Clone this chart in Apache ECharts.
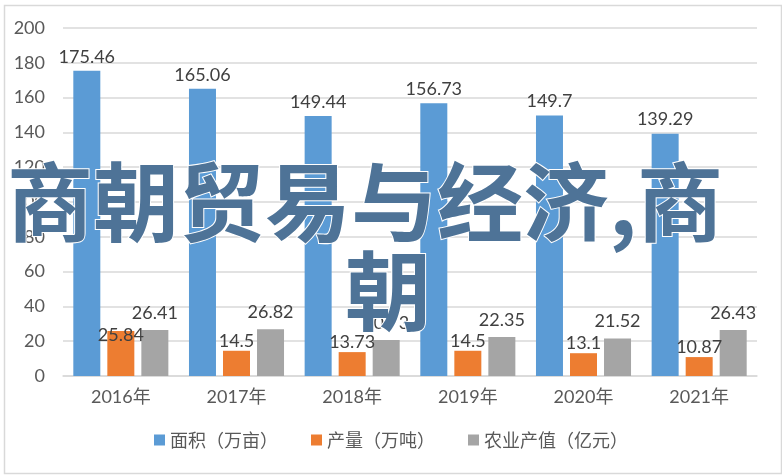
<!DOCTYPE html>
<html>
<head>
<meta charset="utf-8">
<script src="https://cdn.jsdelivr.net/npm/echarts@6/dist/echarts.min.js"></script>
<style>
html,body{margin:0;padding:0;background:#fff;}
#c{width:782px;height:476px;}
</style>
</head>
<body>
<div id="c"></div>
<script>
var categories = ['2016年', '2017年', '2018年', '2019年', '2020年', '2021年'];
var seriesNames = ['面积（万亩）', '产量（万吨）', '农业产值（亿元）'];
var areaValues = [175.46, 165.06, 149.44, 156.73, 149.7, 139.29];
var outputValues = [25.84, 14.5, 13.73, 14.5, 13.1, 10.87];
var valueValues = [26.41, 26.82, 20.73, 22.35, 21.52, 26.43];
var yTicks = { min: 0, max: 200, interval: 20 };
var overlayLine1 = '商朝贸易与经济,商';
var overlayLine2 = '朝';

var colors = ['#5b9bd5', '#ed7d31', '#a5a5a5'];
var labelFont = 'Lato, "Liberation Sans", "Noto Sans CJK SC", sans-serif';

function mkSeries(name, vals, color, dist, extra) {
  return {
    name: name,
    type: 'bar',
    barWidth: 27,
    barGap: '26%',
    barCategoryGap: '18%',
    itemStyle: { color: color },
    label: {
      show: true, position: 'top', distance: dist,
      color: '#404040', fontSize: 18, fontFamily: labelFont
    },
    data: vals.map(function (v, i) {
      var d = { value: v };
      if (extra && extra[i]) d.label = extra[i];
      return d;
    }),
    z: 2
  };
}

var chart = echarts.init(document.getElementById('c'), null, { renderer: 'canvas' });
chart.setOption({
  animation: false,
  backgroundColor: '#fff',
  color: colors,
  grid: { left: 63, right: 25, top: 28, bottom: 100, containLabel: false },
  legend: {
    data: seriesNames,
    bottom: 22,
    left: 'center',
    itemWidth: 11,
    itemHeight: 11,
    itemGap: 33,
    icon: 'rect',
    textStyle: { color: '#595959', fontSize: 18, fontFamily: '"Noto Sans CJK SC", sans-serif' }
  },
  xAxis: {
    type: 'category',
    data: categories,
    axisLine: { lineStyle: { color: '#d9d9d9', width: 1.5 } },
    axisTick: { show: false },
    axisLabel: { color: '#595959', fontSize: 18, margin: 12, fontFamily: labelFont }
  },
  yAxis: {
    type: 'value',
    min: yTicks.min, max: yTicks.max, interval: yTicks.interval,
    axisLine: { show: false },
    axisTick: { show: false },
    splitLine: { lineStyle: { color: '#d9d9d9', width: 1.5 } },
    axisLabel: { color: '#595959', fontSize: 18, margin: 18, fontFamily: labelFont }
  },
  series: [
    mkSeries(seriesNames[0], areaValues, colors[0], 5),
    mkSeries(seriesNames[1], outputValues, colors[1], 1, { 0: { offset: [0, 14] } }),
    mkSeries(seriesNames[2], valueValues, colors[2], 8)
  ],
  graphic: [
    {
      type: 'rect', left: 2, top: 3, z: 0, silent: true,
      shape: { width: 777, height: 468 },
      style: { fill: 'none', stroke: '#d9d9d9', lineWidth: 1.5 }
    },
    {
      type: 'text', z: 100, left: 6, top: 158,
      style: {
        text: overlayLine1, fill: '#4e7397', stroke: '#ffffff', lineWidth: 2,
        fontSize: 86, fontWeight: 'bold', fontFamily: '"Noto Sans CJK SC", sans-serif'
      }
    },
    {
      type: 'text', z: 100, left: 344, top: 247,
      style: {
        text: overlayLine2, fill: '#4e7397', stroke: '#ffffff', lineWidth: 2,
        fontSize: 86, fontWeight: 'bold', fontFamily: '"Noto Sans CJK SC", sans-serif'
      }
    }
  ]
});
</script>
</body>
</html>
